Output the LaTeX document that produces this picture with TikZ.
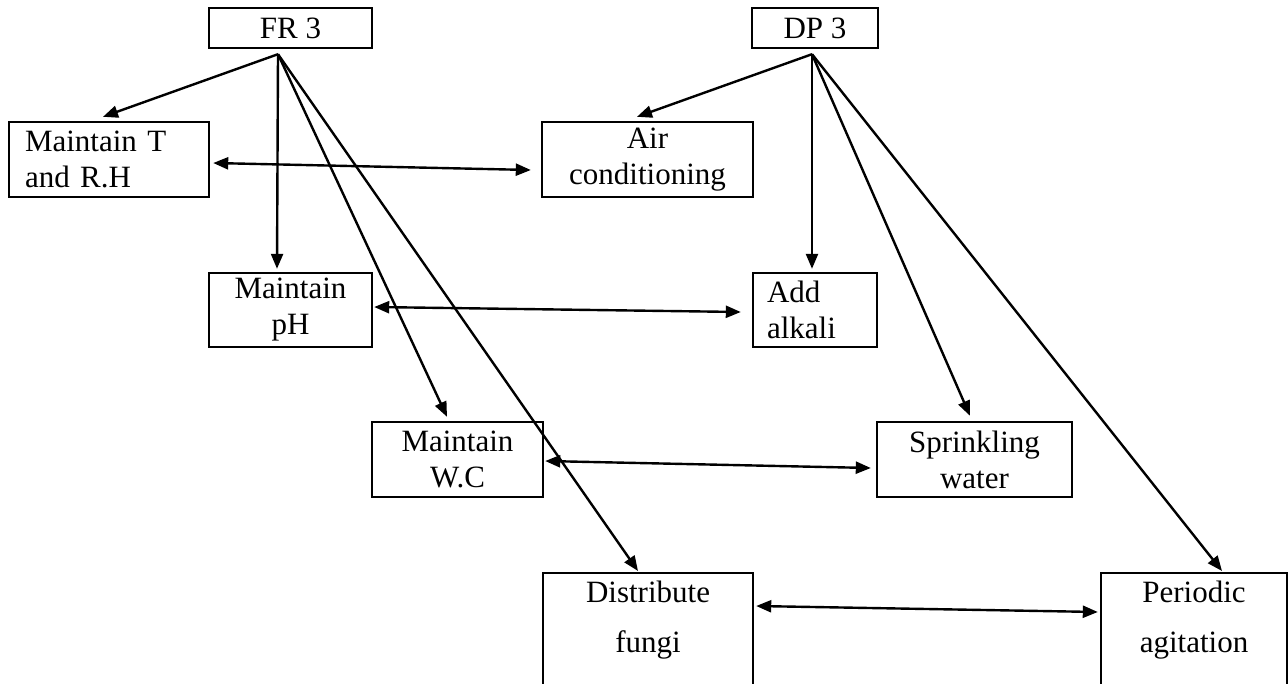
\documentclass[tikz,border=0pt]{standalone}
\usepackage{fontspec}
\setmainfont{Liberation Serif}
\usetikzlibrary{arrows.meta, positioning}

\begin{document}
\begin{tikzpicture}[
    x=1pt, y=-1pt,
    box/.style={draw, line width=2.4pt, align=center, inner sep=0pt,
                minimum height=75pt, font=\fontsize{31}{36}\selectfont},
    lbox/.style={box, align=left},
    tallbox/.style={box, anchor=north, inner ysep=8pt, text depth=90pt},
    arr/.style={-{Triangle[length=15pt,width=12pt]}, line width=2.4pt},
    dbl/.style={{Triangle[length=15pt,width=12pt]}-{Triangle[length=15pt,width=12pt]},
                line width=2.4pt}
  ]
  \useasboundingbox (0,0) rectangle (1288,683);
  \clip (0,0) rectangle (1288,683);

  % requirement and parameter
  \node[box, minimum width=163pt, minimum height=40pt] (fr) at (290.5,28) {FR 3};
  \node[box, minimum width=126pt, minimum height=40pt] (dp) at (815,28) {DP 3};

  % left column: requirements
  \node[lbox, text width=168pt, inner xsep=16pt] (mt) at (109,159.5) {Maintain T\\and R.H};
  \node[box, minimum width=163pt, minimum height=74pt] (ph) at (290.5,310) {Maintain\\pH};
  \node[box, minimum width=171pt] (wc) at (457.5,459.5) {Maintain\\W.C};
  \node[tallbox, minimum width=210pt] (df) at (648,572) {Distribute\\[14pt]fungi};

  % right column: parameters
  \node[box, minimum width=211pt] (ac) at (647.5,159.5) {Air\\conditioning};
  \node[lbox, text width=96pt, inner xsep=14pt, minimum height=74pt] (aa) at (815,310) {Add\\alkali};
  \node[box, minimum width=195pt] (sw) at (974.5,459.5) {Sprinkling\\water};
  \node[tallbox, minimum width=186pt] (pa) at (1194,572) {Periodic\\[14pt]agitation};

  \coordinate (fr-o) at ([xshift=-12.5pt,yshift=-5pt]fr.south);
  \coordinate (dp-o) at ([xshift=-3pt,yshift=-5pt]dp.south);

  % fans
  \draw[arr] (fr-o) -- ([xshift=-6pt,yshift=4pt]mt.north);
  \draw[arr] (fr-o) -- ([xshift=-13.5pt,yshift=3pt]ph.north);
  \draw[arr] (fr-o) -- ([xshift=-10.5pt,yshift=4pt]wc.north);
  \draw[arr] (fr-o) -- ([xshift=-10pt,yshift=1pt]df.north);
  \draw[arr] (dp-o) -- ([xshift=-10.5pt,yshift=4pt]ac.north);
  \draw[arr] (dp-o) -- ([xshift=-3pt,yshift=3pt]aa.north);
  \draw[arr] (dp-o) -- ([xshift=-4.5pt,yshift=5pt]sw.north);
  \draw[arr] (dp-o) -- ([xshift=28pt,yshift=1pt]pa.north);

  % couplings
  \draw[dbl] ([xshift=3pt,yshift=-3.5pt]mt.east) -- ([xshift=-10pt,yshift=-10.5pt]ac.west);
  \draw[dbl] ([xshift=1pt,yshift=3pt]ph.east) -- ([xshift=-11pt,yshift=-2pt]aa.west);
  \draw[dbl] ([xshift=1pt,yshift=-1.5pt]wc.east) -- ([xshift=-5pt,yshift=-8.5pt]sw.west);
  \draw[dbl] ([xshift=2pt,yshift=-34pt]df.north east) -- ([xshift=-2pt,yshift=-40pt]pa.north west);
\end{tikzpicture}
\end{document}
